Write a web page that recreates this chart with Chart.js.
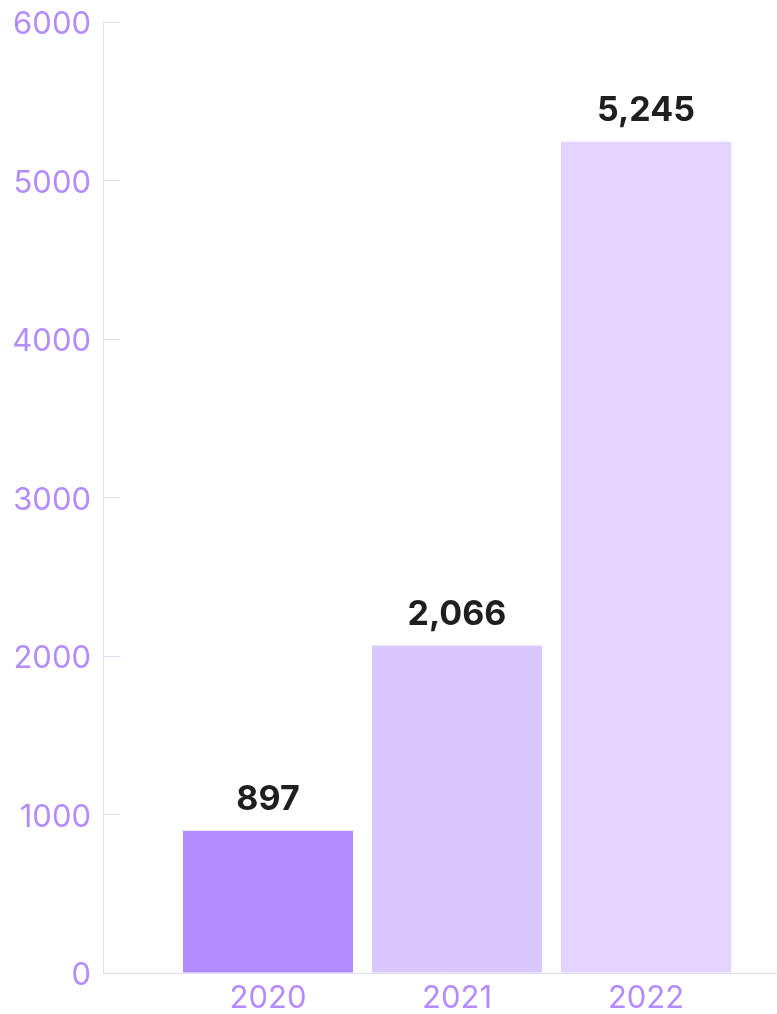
<!DOCTYPE html>
<html>
<head>
<meta charset="utf-8">
<script src="https://cdn.jsdelivr.net/npm/chart.js@4/dist/chart.umd.min.js"></script>
<style>
  html, body { margin: 0; padding: 0; background: #ffffff; }
  #wrap { width: 777px; height: 1014px; position: relative; }
</style>
</head>
<body>
<div id="wrap"><canvas id="c"></canvas></div>
<script>
const years = [2020, 2021, 2022];
const values = [897, 2066, 5245];
const valueLabels = ['897', '2,066', '5,245'];
const barColors = ['#b28bff', '#d9c8ff', '#e3d4ff'];
const yTicks = [0, 1000, 2000, 3000, 4000, 5000, 6000];

const axisColor = '#e4d9ff';
const tickColor = '#b48cff';

const valueLabelPlugin = {
  id: 'valueLabels',
  afterDatasetsDraw(chart) {
    const ctx = chart.ctx;
    const meta = chart.getDatasetMeta(0);
    ctx.save();
    ctx.font = '700 34px Inter, "DejaVu Sans", sans-serif';
    ctx.fillStyle = '#1f1f1f';
    ctx.textAlign = 'center';
    ctx.textBaseline = 'bottom';
    meta.data.forEach((bar, i) => {
      ctx.fillText(valueLabels[i], bar.x, bar.y - 14);
    });
    ctx.restore();
  }
};

new Chart(document.getElementById('c'), {
  type: 'bar',
  data: {
    datasets: [{
      data: years.map((y, i) => ({ x: y, y: values[i] })),
      backgroundColor: barColors,
      borderWidth: 0,
      barPercentage: 0.9,
      categoryPercentage: 1.0
    }]
  },
  options: {
    responsive: true,
    maintainAspectRatio: false,
    animation: false,
    layout: { padding: { top: 22, right: 0, left: 0, bottom: 0 } },
    plugins: { legend: { display: false }, tooltip: { enabled: false } },
    scales: {
      x: {
        type: 'linear',
        offset: false,
        min: 2019.127,
        max: 2022.693,
        afterBuildTicks: (scale) => { scale.ticks = years.map(v => ({ value: v })); },
        afterFit: (scale) => { scale.height = 41; scale.paddingLeft = 0; scale.paddingRight = 0; },
        grid: { display: false, drawTicks: false },
        border: { display: true, color: axisColor, width: 1 },
        ticks: {
          color: tickColor,
          font: { family: 'Inter, "Liberation Sans", sans-serif', size: 31 },
          padding: 7,
          maxRotation: 0,
          autoSkip: false,
          callback: (v) => String(v)
        }
      },
      y: {
        min: 0,
        max: 6000,
        afterBuildTicks: (scale) => { scale.ticks = yTicks.map(v => ({ value: v })); },
        afterFit: (scale) => { scale.width = 103; scale.paddingTop = 0; scale.paddingBottom = 0; },
        grid: { drawOnChartArea: false, drawTicks: true, tickLength: -17, color: axisColor, lineWidth: 1 },
        border: { display: true, color: axisColor, width: 1 },
        ticks: {
          color: tickColor,
          font: { family: 'Inter, "Liberation Sans", sans-serif', size: 31 },
          padding: 29,
          labelOffset: 3,
          callback: (v) => String(v)
        }
      }
    }
  },
  plugins: [valueLabelPlugin]
});
</script>
</body>
</html>
